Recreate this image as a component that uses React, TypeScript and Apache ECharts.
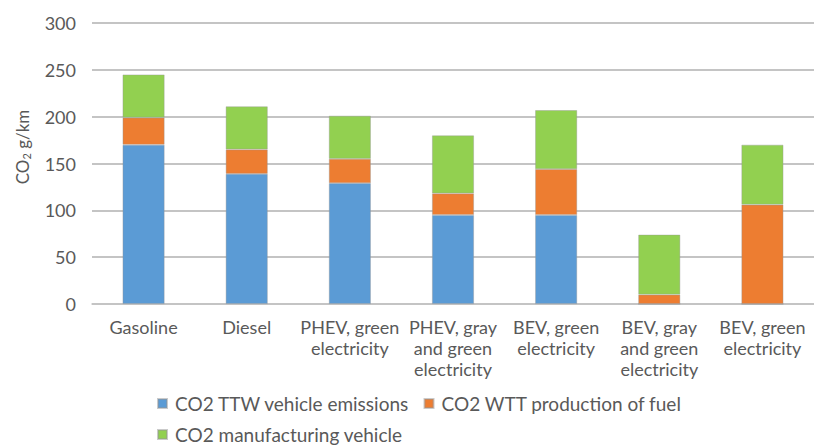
import React, { useEffect, useRef } from "react";
import * as echarts from "echarts";

const categories = [
  "Gasoline",
  "Diesel",
  "PHEV, green\nelectricity",
  "PHEV, gray\nand green\nelectricity",
  "BEV, green\nelectricity",
  "BEV, gray\nand green\nelectricity",
  "BEV, green\nelectricity",
];
const ttw = [170, 139, 129, 95, 95, 0, 0];
const wtt = [29, 26, 26, 23, 49, 10, 106];
const manufacturing = [46, 46, 46, 62, 63, 64, 64];
const seriesNames = [
  "CO2 TTW vehicle emissions",
  "CO2 WTT production of fuel",
  "CO2 manufacturing vehicle",
];
const colors = ["#5B9BD5", "#ED7D31", "#92D050"];

export default function App() {
  const ref = useRef<HTMLDivElement>(null);
  useEffect(() => {
    if (!ref.current) return;
    const chart = echarts.init(ref.current, null, { renderer: "svg" });
    const font = "Lato";
    const txt = "#595959";
    const mk = (name: string, data: number[], color: string) => ({
      name,
      type: "bar",
      stack: "total",
      data,
      barWidth: 42,
      itemStyle: { color, borderColor: "rgba(150,150,150,0.5)", borderWidth: 0.8 },
    });
    const legendText = { fontSize: 19, color: txt, fontFamily: font, padding: [0, 0, 0, 3] };
    chart.setOption({
      animation: false,
      textStyle: { fontFamily: font },
      grid: { left: 92, top: 23, bottom: 143, width: 730, containLabel: false },
      legend: [
        {
          data: [seriesNames[0], seriesNames[1]],
          left: 157,
          top: 394,
          padding: 0,
          itemWidth: 9,
          itemHeight: 9,
          itemGap: 14,
          icon: "rect",
          textStyle: legendText,
        },
        {
          data: [seriesNames[2]],
          left: 157,
          top: 425,
          padding: 0,
          itemWidth: 9,
          itemHeight: 9,
          icon: "rect",
          textStyle: legendText,
        },
      ],
      graphic: [
        {
          type: "text",
          x: 22,
          y: 147,
          rotation: Math.PI / 2,
          style: {
            text: "CO{sub|2} g/km",
            fill: txt,
            fontSize: 17,
            fontFamily: font,
            align: "center",
            verticalAlign: "middle",
            rich: {
              sub: { fontSize: 11, fill: txt, fontFamily: font, padding: [9, 0, 0, 0] },
            },
          },
        },
      ],
      xAxis: {
        type: "category",
        data: categories,
        axisTick: { show: false },
        axisLine: { lineStyle: { color: "#c4c4c4", width: 1.5 } },
        axisLabel: {
          interval: 0,
          color: txt,
          fontSize: 18,
          lineHeight: 21,
          margin: 12,
          fontFamily: font,
        },
      },
      yAxis: {
        type: "value",
        min: 0,
        max: 300,
        interval: 50,
        axisLabel: { color: txt, fontSize: 18, margin: 16, fontFamily: font },
        splitLine: { lineStyle: { color: "#b0b0b0", width: 1.5 } },
        axisLine: { show: false },
        axisTick: { show: false },
      },
      series: [
        mk(seriesNames[0], ttw, colors[0]),
        mk(seriesNames[1], wtt, colors[1]),
        mk(seriesNames[2], manufacturing, colors[2]),
      ],
    });
    return () => chart.dispose();
  }, []);
  return (
    <div
      ref={ref}
      style={{ position: "absolute", left: 0, top: 0, width: 814, height: 447 }}
    />
  );
}
